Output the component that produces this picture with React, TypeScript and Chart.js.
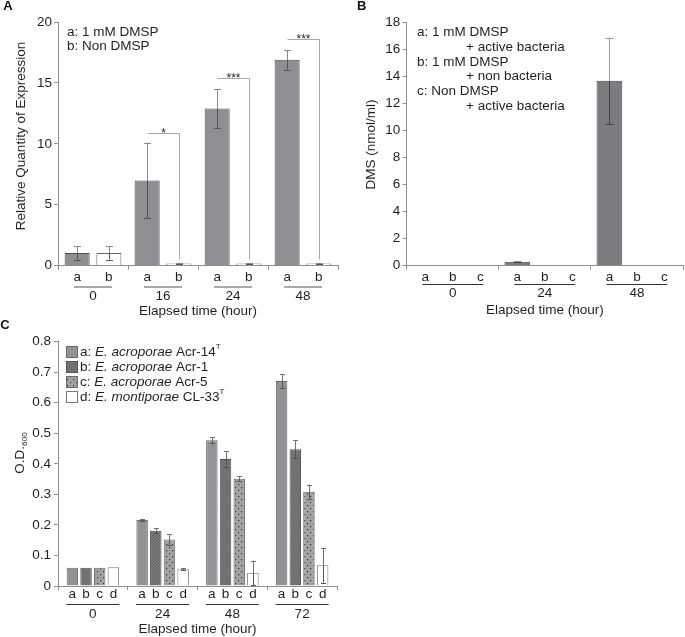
import { useEffect, useRef } from 'react';
import { Chart, registerables } from 'chart.js';

Chart.register(...registerables);

const FONT = '"Liberation Sans", Arial, Helvetica, sans-serif';
const TXT = '#231f20';
const AXIS = '#8f8f8f';
const FS = 13.5;

// ---------- Panel A : relative expression ----------
const timesA = ['0', '16', '24', '48'];
const keysA = ['a', 'b'];
const legendA = ['a: 1 mM DMSP', 'b: Non DMSP'];
const exprDmsp = [1.05, 7.0, 12.9, 16.9];
const exprDmspErr = [0.55, 3.1, 1.6, 0.8];
const exprNon = [1.05, 0.18, 0.18, 0.18];
const exprNonErr = [0.55, 0.04, 0.04, 0.04];
const sigLevelA = [null, 10.85, 15.4, 18.6];
const sigMarkA = ['', '*', '***', '***'];
const yTicksA = [0, 5, 10, 15, 20];

// ---------- Panel B : DMS ----------
const timesB = ['0', '24', '48'];
const keysB = ['a', 'b', 'c'];
const legendB = ['a: 1 mM DMSP', '+ active bacteria', 'b: 1 mM DMSP', '+ non bacteria', 'c: Non DMSP', '+ active bacteria'];
const dmsActive = [0, 0.3, 13.7];
const dmsActiveErr = [0, 0.05, 3.2];
const dmsNoBact = [0, 0, 0];
const dmsNoDmsp = [0, 0, 0];
const yTicksB = [0, 2, 4, 6, 8, 10, 12, 14, 16, 18];

// ---------- Panel C : growth ----------
const timesC = ['0', '24', '48', '72'];
const keysC = ['a', 'b', 'c', 'd'];
const strainSpecies = ['E. acroporae', 'E. acroporae', 'E. acroporae', 'E. montiporae'];
const strainIds = ['Acr-14', 'Acr-1', 'Acr-5', 'CL-33'];
const strainType = ['T', '', '', 'T'];
const odAcr14 = [0.06, 0.216, 0.477, 0.671];
const odAcr14Err = [0, 0.002, 0.01, 0.022];
const odAcr1 = [0.06, 0.181, 0.416, 0.448];
const odAcr1Err = [0, 0.008, 0.026, 0.03];
const odAcr5 = [0.06, 0.152, 0.351, 0.309];
const odAcr5Err = [0, 0.017, 0.008, 0.023];
const odCL33 = [0.061, 0.055, 0.043, 0.068];
const odCL33Err = [0, 0.004, 0.04, 0.057];
const yTicksC = [0, 0.1, 0.2, 0.3, 0.4, 0.5, 0.6, 0.7, 0.8];
const yTickLabelsC = ['0', '0.1', '0.2', '0.3', '0.4', '0.5', '0.6', '0.7', '0.8'];

const fnt = (size: number, weight = 'normal', style = 'normal') => `${style} ${weight} ${size}px ${FONT}`;

type Part = { t: string; it?: boolean; sup?: boolean; sub?: boolean };

function drawParts(ctx: CanvasRenderingContext2D, parts: Part[], x: number, y: number, size: number, center = false) {
  const measure = (p: Part) => {
    ctx.font = p.sup || p.sub ? fnt(size * 0.6) : fnt(size, 'normal', p.it ? 'italic' : 'normal');
    return ctx.measureText(p.t).width;
  };
  let total = 0;
  parts.forEach((p) => (total += measure(p)));
  let cx = center ? x - total / 2 : x;
  ctx.textAlign = 'left';
  ctx.textBaseline = 'middle';
  parts.forEach((p) => {
    const w = measure(p);
    const dy = p.sup ? -size * 0.38 : p.sub ? size * 0.32 : 0;
    ctx.fillText(p.t, cx, y + dy);
    cx += w;
  });
}

const decorPlugin = {
  id: 'decor',
  afterDraw(chart: any, _args: any, o: any) {
    const ctx: CanvasRenderingContext2D = chart.ctx;
    const ca = chart.chartArea;
    const xs = chart.scales.x;
    const ys = chart.scales.y;
    ctx.save();

    // error bars
    chart.data.datasets.forEach((ds: any, di: number) => {
      if (!ds.errors) return;
      const meta = chart.getDatasetMeta(di);
      meta.data.forEach((bar: any, i: number) => {
        const e = ds.errors[i];
        if (!e) return;
        const v = ds.data[i];
        const bx = Math.round(bar.x) + 0.5;
        const yt = ys.getPixelForValue(v + e);
        const yb = ys.getPixelForValue(v - e);
        const yBar = bar.y;
        const hw = o.capHalf;
        ctx.lineWidth = 1;
        ctx.strokeStyle = o.errOut;
        ctx.beginPath();
        ctx.moveTo(bx, yt);
        ctx.lineTo(bx, yBar);
        ctx.moveTo(bx - hw, Math.round(yt) + 0.5);
        ctx.lineTo(bx + hw, Math.round(yt) + 0.5);
        ctx.stroke();
        ctx.strokeStyle = o.errIn;
        ctx.beginPath();
        ctx.moveTo(bx, yBar);
        ctx.lineTo(bx, yb);
        ctx.moveTo(bx - hw, Math.round(yb) + 0.5);
        ctx.lineTo(bx + hw, Math.round(yb) + 0.5);
        ctx.stroke();
      });
    });

    // significance brackets
    if (o.brackets) {
      const ma = chart.getDatasetMeta(0);
      const mb = chart.getDatasetMeta(1);
      o.brackets.levels.forEach((lv: number | null, i: number) => {
        if (lv === null || lv === undefined) return;
        const xa = Math.round(ma.data[i].x) + 0.5;
        const xb = Math.round(mb.data[i].x) + 0.5;
        const yl = Math.round(ys.getPixelForValue(lv)) + 0.5;
        const yEnd = mb.data[i].y - 4;
        ctx.strokeStyle = o.brackets.color;
        ctx.lineWidth = 1;
        ctx.beginPath();
        ctx.moveTo(xa, yl);
        ctx.lineTo(xb, yl);
        ctx.lineTo(xb, yEnd);
        ctx.stroke();
        ctx.fillStyle = TXT;
        ctx.font = fnt(12);
        ctx.textAlign = 'center';
        ctx.textBaseline = 'alphabetic';
        ctx.fillText(o.brackets.marks[i], (xa + xb) / 2, yl + 3);
      });
    }

    // sub-category labels under each bar
    ctx.fillStyle = TXT;
    ctx.font = fnt(FS);
    ctx.textAlign = 'center';
    ctx.textBaseline = 'middle';
    chart.data.datasets.forEach((_ds: any, di: number) => {
      chart.getDatasetMeta(di).data.forEach((bar: any) => {
        ctx.fillText(o.subLabels[di], bar.x, ca.bottom + o.subY);
      });
    });

    // group underlines
    ctx.strokeStyle = o.ulColor;
    ctx.lineWidth = o.ulWidth;
    xs.ticks.forEach((_t: any, i: number) => {
      const cx = xs.getPixelForTick(i);
      const yy = Math.round(ca.bottom + o.ulY) + (o.ulWidth % 2 ? 0.5 : 0);
      ctx.beginPath();
      ctx.moveTo(cx - o.ulHalf, yy);
      ctx.lineTo(cx + o.ulHalf, yy);
      ctx.stroke();
    });

    // plain text notes (legend lines)
    if (o.notes) {
      ctx.fillStyle = TXT;
      ctx.font = fnt(FS);
      ctx.textAlign = 'left';
      ctx.textBaseline = 'middle';
      o.notes.forEach((n: any) => ctx.fillText(n.text, n.x, n.y));
    }

    // swatch legend
    if (o.swatches) {
      const s = o.swatches;
      chart.data.datasets.forEach((ds: any, di: number) => {
        const yc = s.y0 + s.dy * di;
        const x0 = s.x;
        const top = Math.round(yc - s.size / 2);
        ctx.fillStyle = ds.backgroundColor;
        ctx.fillRect(x0, top, s.size, s.size);
        ctx.strokeStyle = ds.borderColor;
        ctx.lineWidth = 1;
        ctx.strokeRect(x0 + 0.5, top + 0.5, s.size - 1, s.size - 1);
        ctx.fillStyle = TXT;
        const parts: Part[] = [
          { t: `${keysC[di]}: ` },
          { t: strainSpecies[di], it: true },
          { t: ` ${strainIds[di]}` },
          { t: strainType[di], sup: true },
        ];
        drawParts(ctx, parts, s.textX, yc, FS);
      });
    }

    // rotated y title
    if (o.yTitle) {
      ctx.save();
      ctx.translate(o.yTitle.x, o.yTitle.y);
      ctx.rotate(-Math.PI / 2);
      ctx.fillStyle = TXT;
      drawParts(ctx, o.yTitle.parts, 0, 0, FS, true);
      ctx.restore();
    }

    // panel letter
    if (o.letter) {
      ctx.fillStyle = '#111';
      ctx.font = fnt(13, 'bold');
      ctx.textAlign = 'center';
      ctx.textBaseline = 'middle';
      ctx.fillText(o.letter.text, o.letter.x, o.letter.y);
    }
    ctx.restore();
  },
};

function makeHatch(): CanvasPattern | string {
  const c = document.createElement('canvas');
  c.width = 3;
  c.height = 3;
  const g = c.getContext('2d');
  if (!g) return '#6e6e71';
  g.fillStyle = '#6a6a6d';
  g.fillRect(0, 0, 3, 3);
  g.fillStyle = '#818184';
  g.fillRect(2, 0, 1, 1);
  g.fillRect(1, 1, 1, 1);
  g.fillRect(0, 2, 1, 1);
  return g.createPattern(c, 'repeat') || '#6e6e71';
}

function makeDots(): CanvasPattern | string {
  const c = document.createElement('canvas');
  c.width = 6;
  c.height = 6;
  const g = c.getContext('2d');
  if (!g) return '#9a9a9c';
  g.fillStyle = '#a2a2a4';
  g.fillRect(0, 0, 6, 6);
  g.fillStyle = '#3a3a3a';
  g.fillRect(1, 1, 1.2, 1.2);
  g.fillRect(4, 4, 1.2, 1.2);
  return g.createPattern(c, 'repeat') || '#9a9a9c';
}

type Geo = {
  padding: { left: number; right: number; top: number; bottom: number };
  yWidth: number;
  xHeight: number;
  yTicks: number[];
  yLabels?: string[];
  yPad: number;
  xTickPad: number;
  xTitlePad: number;
  decor: any;
};

function makeOptions(g: Geo): any {
  const font = { family: FONT, size: FS };
  return {
    responsive: false,
    maintainAspectRatio: false,
    animation: false,
    devicePixelRatio: 1,
    events: [],
    layout: { padding: g.padding },
    plugins: { legend: { display: false }, tooltip: { enabled: false }, decor: g.decor },
    scales: {
      x: {
        type: 'category',
        offset: true,
        grid: { offset: true, drawOnChartArea: false, drawTicks: true, tickLength: 4, color: AXIS },
        border: { color: AXIS, width: 1 },
        ticks: { font, color: TXT, padding: g.xTickPad, maxRotation: 0, autoSkip: false },
        title: { display: true, text: 'Elapsed time (hour)', font, color: TXT, padding: { top: 0, bottom: g.xTitlePad } },
        afterFit: (s: any) => {
          s.height = g.xHeight;
        },
      },
      y: {
        type: 'linear',
        min: g.yTicks[0],
        max: g.yTicks[g.yTicks.length - 1],
        afterBuildTicks: (s: any) => {
          s.ticks = g.yTicks.map((v) => ({ value: v }));
        },
        grid: { drawOnChartArea: false, drawTicks: true, tickLength: 4, color: AXIS },
        border: { color: AXIS, width: 1 },
        ticks: {
          font,
          color: TXT,
          padding: g.yPad,
          callback: (v: number, i: number) => (g.yLabels ? g.yLabels[i] : String(v)),
        },
        afterFit: (s: any) => {
          s.width = g.yWidth;
        },
      },
    },
  };
}

export default function App() {
  const refA = useRef<HTMLCanvasElement>(null);
  const refB = useRef<HTMLCanvasElement>(null);
  const refC = useRef<HTMLCanvasElement>(null);

  useEffect(() => {
    const hatch = makeHatch();
    const dots = makeDots();

    const chartA = new Chart(refA.current as HTMLCanvasElement, {
      type: 'bar',
      data: {
        labels: timesA,
        datasets: [
          { label: legendA[0], data: exprDmsp, errors: exprDmspErr, backgroundColor: '#8e8f93', borderColor: '#4d4d50', borderWidth: 1, categoryPercentage: 0.906, barPercentage: 0.79 } as any,
          { label: legendA[1], data: exprNon, errors: exprNonErr, backgroundColor: '#ffffff', borderColor: '#666', borderWidth: 1, categoryPercentage: 0.906, barPercentage: 0.79 } as any,
        ],
      },
      options: makeOptions({
        padding: { left: 0, top: 22, right: 347, bottom: 315.3 },
        yWidth: 58,
        xHeight: 56,
        yTicks: yTicksA,
        yPad: 2,
        xTickPad: 18.9,
        xTitlePad: 1.9,
        decor: {
          subLabels: keysA,
          subY: 12,
          ulY: 21,
          ulHalf: 19,
          ulColor: '#a9a9a9',
          ulWidth: 2,
          capHalf: 3.5,
          errOut: '#8a8a8a',
          errIn: '#555',
          brackets: { levels: sigLevelA, marks: sigMarkA, color: '#a8a8a8' },
          notes: [
            { text: legendA[0], x: 67, y: 32.3 },
            { text: legendA[1], x: 67, y: 46 },
          ],
          letter: { text: 'A', x: 8, y: 6 },
          yTitle: { parts: [{ t: 'Relative Quantity of Expression' }], x: 21.7, y: 136 },
        },
      }),
      plugins: [decorPlugin as any],
    });

    const chartB = new Chart(refB.current as HTMLCanvasElement, {
      type: 'bar',
      data: {
        labels: timesB,
        datasets: [
          { label: 'a', data: dmsActive, errors: dmsActiveErr, backgroundColor: '#7b7c80', borderColor: '#4a4a4c', borderWidth: 1, categoryPercentage: 0.896, barPercentage: 0.935 } as any,
          { label: 'b', data: dmsNoBact, backgroundColor: '#7b7c80', borderColor: '#4a4a4c', borderWidth: 1, categoryPercentage: 0.896, barPercentage: 0.935 } as any,
          { label: 'c', data: dmsNoDmsp, backgroundColor: '#7b7c80', borderColor: '#4a4a4c', borderWidth: 1, categoryPercentage: 0.896, barPercentage: 0.935 } as any,
        ],
      },
      options: makeOptions({
        padding: { left: 346.7, top: 22.7, right: 2, bottom: 315.3 },
        yWidth: 60,
        xHeight: 56,
        yTicks: yTicksB,
        yPad: 2.5,
        xTickPad: 15.5,
        xTitlePad: 3.6,
        decor: {
          subLabels: keysB,
          subY: 12,
          ulY: 18.6,
          ulHalf: 30.5,
          ulColor: '#333',
          ulWidth: 1,
          capHalf: 4,
          errOut: '#9a9a9a',
          errIn: '#444',
          notes: [
            { text: legendB[0], x: 417, y: 32.3 },
            { text: legendB[1], x: 466, y: 47 },
            { text: legendB[2], x: 417, y: 62.3 },
            { text: legendB[3], x: 466, y: 76.7 },
            { text: legendB[4], x: 417, y: 91.7 },
            { text: legendB[5], x: 466, y: 106.7 },
          ],
          letter: { text: 'B', x: 361.7, y: 6 },
          yTitle: { parts: [{ t: 'DMS (nmol/ml)' }], x: 371.7, y: 144.5 },
        },
      }),
      plugins: [decorPlugin as any],
    });

    const chartC = new Chart(refC.current as HTMLCanvasElement, {
      type: 'bar',
      data: {
        labels: timesC,
        datasets: [
          { label: 'a', data: odAcr14, errors: odAcr14Err, backgroundColor: '#929396', borderColor: '#6a6a6c', borderWidth: 1, categoryPercentage: 0.784, barPercentage: 0.84 } as any,
          { label: 'b', data: odAcr1, errors: odAcr1Err, backgroundColor: hatch, borderColor: '#555557', borderWidth: 1, categoryPercentage: 0.784, barPercentage: 0.84 } as any,
          { label: 'c', data: odAcr5, errors: odAcr5Err, backgroundColor: dots, borderColor: '#6a6a6c', borderWidth: 1, categoryPercentage: 0.784, barPercentage: 0.84 } as any,
          { label: 'd', data: odCL33, errors: odCL33Err, backgroundColor: '#ffffff', borderColor: '#777', borderWidth: 1, categoryPercentage: 0.784, barPercentage: 0.84 } as any,
        ],
      },
      options: makeOptions({
        padding: { left: 0, top: 341.7, right: 348, bottom: 0 },
        yWidth: 58,
        xHeight: 51,
        yTicks: yTicksC,
        yLabels: yTickLabelsC,
        yPad: 3,
        xTickPad: 15.9,
        xTitlePad: 0,
        decor: {
          subLabels: keysC,
          subY: 8.3,
          ulY: 18.3,
          ulHalf: 26.5,
          ulColor: '#333',
          ulWidth: 1,
          capHalf: 2.5,
          errOut: '#707070',
          errIn: '#555',
          swatches: { x: 66, y0: 352.3, dy: 15, size: 12, textX: 80 },
          letter: { text: 'C', x: 5, y: 325.3 },
          yTitle: { parts: [{ t: 'O.D.' }, { t: '600', sub: true }], x: 20.5, y: 453 },
        },
      }),
      plugins: [decorPlugin as any],
    });

    return () => {
      chartA.destroy();
      chartB.destroy();
      chartC.destroy();
    };
  }, []);

  const cs: any = { position: 'absolute', left: 0, top: 0, width: 685, height: 637 };
  return (
    <div style={{ position: 'absolute', left: 0, top: 0, width: 685, height: 637, background: '#fff' }}>
      <canvas ref={refA} width={685} height={637} style={cs} />
      <canvas ref={refB} width={685} height={637} style={cs} />
      <canvas ref={refC} width={685} height={637} style={cs} />
    </div>
  );
}
